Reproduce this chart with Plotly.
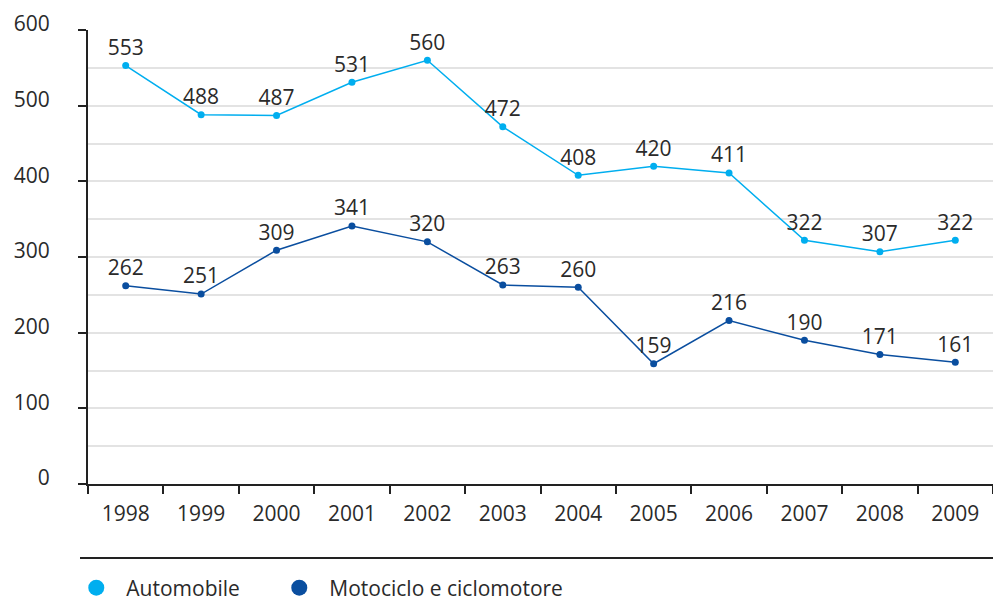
import plotly.graph_objects as go

years = ["1998", "1999", "2000", "2001", "2002", "2003", "2004", "2005", "2006", "2007", "2008", "2009"]
automobile = [553, 488, 487, 531, 560, 472, 408, 420, 411, 322, 307, 322]
motociclo = [262, 251, 309, 341, 320, 263, 260, 159, 216, 190, 171, 161]
y_ticks = [0, 100, 200, 300, 400, 500, 600]

c_auto = "#00aeef"
c_moto = "#0a4e9f"
font_family = "Open Sans, Lato, sans-serif"
txt = "#2a2a2a"

fig = go.Figure()
series = [("Automobile", automobile, c_auto, "legend"),
          ("Motociclo e ciclomotore", motociclo, c_moto, "legend2")]
for name, vals, col, lg in series:
    fig.add_trace(go.Scatter(
        x=years, y=vals, mode="lines+markers+text", text=[str(v) for v in vals],
        textposition="top center", textfont=dict(size=21, color=txt, family=font_family),
        line=dict(color=col, width=1.5), marker=dict(color=col, size=7),
        showlegend=False, cliponaxis=False, hoverinfo="skip",
    ))
    fig.add_trace(go.Scatter(
        x=[None], y=[None], mode="markers", name=name, legend=lg,
        marker=dict(color=col, size=17), showlegend=True,
    ))

leg_common = dict(orientation="h", xanchor="left", y=-104/454, yanchor="middle",
                  font=dict(size=21, color=txt), itemsizing="trace", itemwidth=50,
                  bgcolor="rgba(0,0,0,0)")
lx = -0.024
fig.update_layout(
    width=993, height=601,
    margin=dict(l=88, r=0, t=30, b=117, autoexpand=False),
    paper_bgcolor="white", plot_bgcolor="white",
    font=dict(family=font_family, color=txt, size=21),
    legend=dict(x=lx, **leg_common),
    legend2=dict(x=lx + 203/905, **leg_common),
    shapes=[dict(type="line", xref="paper", yref="paper", x0=-8/905, x1=1.01,
                 y0=-74/454, y1=-74/454, line=dict(color="#222", width=2))],
)
fig.update_xaxes(
    type="category", showline=True, linecolor="#222", linewidth=2,
    ticks="outside", tickson="boundaries", ticklen=8, tickwidth=2, tickcolor="#222",
    showgrid=False, ticklabelstandoff=10, tickfont=dict(size=21, color=txt),
    range=[-0.5, 11.5], automargin=False,
)
fig.update_yaxes(
    range=[0, 600], tickvals=y_ticks, showline=True, linecolor="#222", linewidth=2,
    ticks="outside", ticklen=8, tickwidth=2, tickcolor="#222",
    showgrid=True, gridcolor="#e3e3e3", gridwidth=2,
    minor=dict(dtick=50, showgrid=True, gridcolor="#e3e3e3", gridwidth=2, ticks=""),
    zeroline=False, ticklabelstandoff=24, ticklabelshift=-6,
    tickfont=dict(size=21, color=txt), automargin=False,
)
fig.write_html("out.html", config={"displayModeBar": False},
               post_script="document.body.style.margin='0';document.body.style.overflow='hidden';")
